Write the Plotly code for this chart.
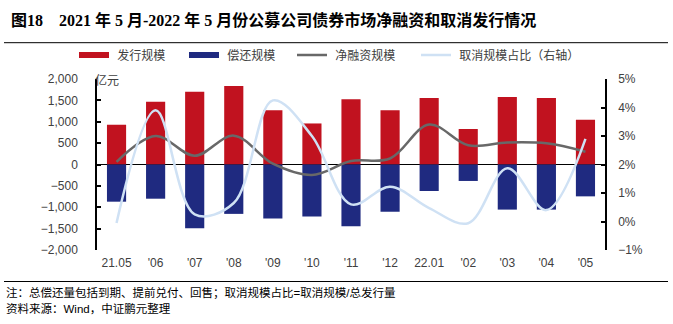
import plotly.graph_objects as go

months = ["21.05", "'06", "'07", "'08", "'09", "'10", "'11", "'12",
          "22.01", "'02", "'03", "'04", "'05"]
issuance = [930, 1470, 1700, 1835, 1270, 960, 1525, 1270, 1555, 830, 1580, 1555, 1045]
repayment = [-870, -800, -1490, -1155, -1265, -1215, -1445, -1105, -620, -385, -1055, -1055, -745]
net_financing = [60, 665, 205, 675, 20, -245, 80, 140, 935, 450, 515, 495, 300]
cancel_ratio = [-0.05, 3.9, 0.25, 0.65, 4.25, 3.0, 0.6, 1.22, 0.47, -0.06, 1.87, 0.4, 2.9]

RED = "#C1121F"
BLUE = "#1F2A80"
GREY = "#686868"
LBLUE = "#CFE1F4"
CJK = "Liberation Sans, Noto Sans CJK SC, sans-serif"

L, R, T, B = 97, 68, 79, 74
W, H = 673, 324
pw, ph = W - L - R, H - T - B


def px(x):
    return (x - L) / pw


def py(y):
    return (H - B - y) / ph


fig = go.Figure()
fig.add_trace(go.Bar(x=months, y=issuance, marker=dict(color=RED, line=dict(width=0)),
                     showlegend=False, name="发行规模"))
fig.add_trace(go.Bar(x=months, y=repayment, marker=dict(color=BLUE, line=dict(width=0)),
                     showlegend=False, name="偿还规模"))
fig.add_trace(go.Scatter(x=months, y=net_financing, mode="lines",
                         line=dict(color=GREY, width=2.5, shape="spline", smoothing=1.0),
                         showlegend=False, name="净融资规模"))
fig.add_trace(go.Scatter(x=months, y=cancel_ratio, mode="lines", yaxis="y2",
                         line=dict(color=LBLUE, width=2.5, shape="spline", smoothing=1.0),
                         showlegend=False, name="取消规模占比（右轴）"))

# legend entries (line-style swatches as in the reference), each in its own legend
legend_items = [("发行规模", RED, 6, "legend", 74),
                ("偿还规模", BLUE, 6, "legend2", 184),
                ("净融资规模", GREY, 2.5, "legend3", 292),
                ("取消规模占比（右轴）", LBLUE, 2.5, "legend4", 416)]
legend_layouts = {}
for nm, col, w, lg, lx in legend_items:
    fig.add_trace(go.Scatter(x=[None], y=[None], mode="lines", name="\u00a0" + nm,
                             line=dict(color=col, width=w), showlegend=True, legend=lg))
    legend_layouts[lg] = dict(orientation="h", x=px(lx), xanchor="left", y=py(55),
                              yanchor="middle", font=dict(size=12, color="#404040"),
                              bgcolor="rgba(0,0,0,0)", itemwidth=30)

fig.update_layout(
    width=W, height=H,
    margin=dict(l=L, r=R, t=T, b=B, pad=0),
    paper_bgcolor="white", plot_bgcolor="white",
    barmode="relative", bargap=0.51,
    font=dict(family=CJK, size=12, color="#404040"),
    title=dict(text="<b>图18    2021 年 5 月-2022 年 5 月份公募公司债券市场净融资和取消发行情况</b>",
               x=11 / W, xref="container", xanchor="left",
               y=1 - 20 / H, yref="container", yanchor="middle",
               font=dict(family="Liberation Serif, Noto Sans CJK SC, serif", size=16, color="#000000")),
    xaxis=dict(type="category", range=[-0.5, 12.5], showline=False, showgrid=False,
               ticks="", tickfont=dict(size=12, color="#404040"), ticklabelstandoff=4),
    yaxis=dict(range=[-2000, 2000], dtick=500, tickformat=",d", showgrid=False,
               showline=True, linecolor="#000000", linewidth=1.5,
               ticks="inside", ticklen=4, tickcolor="#000000", tickwidth=1.5,
               zeroline=True, zerolinecolor="#000000", zerolinewidth=1.2,
               tickfont=dict(size=12, color="#404040"), ticklabelstandoff=15),
    yaxis2=dict(range=[-1, 5], dtick=1, ticksuffix="%", overlaying="y", side="right",
                showgrid=False, zeroline=False, showline=True, linecolor="#000000", linewidth=1.5,
                ticks="inside", ticklen=4, tickcolor="#000000", tickwidth=1.5,
                tickfont=dict(size=12, color="#404040"), ticklabelstandoff=9),
    shapes=[
        dict(type="line", xref="paper", yref="paper", x0=px(4), x1=px(668),
             y0=py(42.7), y1=py(42.7), line=dict(color="#000000", width=1)),
        dict(type="line", xref="paper", yref="paper", x0=px(4), x1=px(668),
             y0=py(281.5), y1=py(281.5), line=dict(color="#000000", width=1)),
    ],
    annotations=[
        dict(text="亿元", xref="paper", yref="paper", x=px(93), y=py(80), xanchor="left",
             yanchor="middle", showarrow=False, font=dict(size=12, color="#404040")),
        dict(text="注：总偿还量包括到期、提前兑付、回售；取消规模占比=取消规模/总发行量",
             xref="paper", yref="paper", x=px(4), y=py(292), xanchor="left", yanchor="middle",
             showarrow=False, font=dict(size=11.5, color="#000000")),
        dict(text="资料来源：Wind，中证鹏元整理",
             xref="paper", yref="paper", x=px(4), y=py(308), xanchor="left", yanchor="middle",
             showarrow=False, font=dict(size=11.5, color="#000000")),
    ],
)
fig.update_layout(**legend_layouts)

fig.write_html("out.html")
